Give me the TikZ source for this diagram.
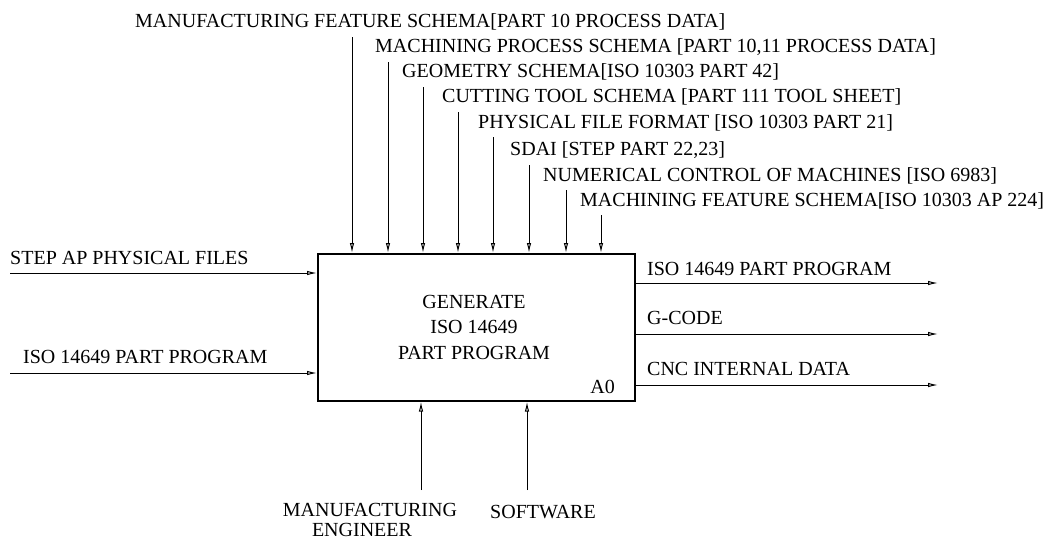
\documentclass[tikz,border=0pt]{standalone}
\usepackage{fontspec}
\setmainfont{Liberation Serif}
\usetikzlibrary{arrows.meta}
\begin{document}
\begin{tikzpicture}[x=1pt,y=-1pt,
  lbl/.style={font=\fontsize{20}{25}\selectfont, inner sep=0pt, anchor=west},
  mlbl/.style={font=\fontsize{20}{22}\selectfont, inner sep=0pt},
  arr/.style={line width=1pt, -{Latex[open,length=10pt,width=4.5pt]}},
  boxst/.style={draw, line width=1.6pt, minimum width=317pt, minimum height=147pt, anchor=north west, inner sep=0pt}]
\useasboundingbox (0,0) rectangle (1061,541);
% main box
\node[boxst] (box) at (317,253) {};
\node[font=\fontsize{20}{25.5}\selectfont, align=center, inner sep=0pt] (title) at (474,327) {GENERATE\\ISO 14649\\PART PROGRAM};
\node[lbl, anchor=east] (a0) at (615,387) {A0};
% top (control) labels
\node[lbl] (t1) at (135,22) {MANUFACTURING FEATURE SCHEMA[PART 10 PROCESS DATA]};
\node[lbl] (t2) at (375,47) {MACHINING PROCESS SCHEMA [PART 10,11 PROCESS DATA]};
\node[lbl] (t3) at (402,72) {GEOMETRY SCHEMA[ISO 10303 PART 42]};
\node[lbl] (t4) at (442,97) {CUTTING TOOL SCHEMA [PART 111 TOOL SHEET]};
\node[lbl] (t5) at (478,123) {PHYSICAL FILE FORMAT [ISO 10303 PART 21]};
\node[lbl] (t6) at (510,150) {SDAI [STEP PART 22,23]};
\node[lbl] (t7) at (543,176) {NUMERICAL CONTROL OF MACHINES [ISO 6983]};
\node[lbl] (t8) at (580,201) {MACHINING FEATURE SCHEMA[ISO 10303 AP 224]};
% top arrow start points
\coordinate (c1) at (352,37);
\coordinate (c2) at (388,62);
\coordinate (c3) at (423,87);
\coordinate (c4) at (458,112);
\coordinate (c5) at (493,137);
\coordinate (c6) at (529,165);
\coordinate (c7) at (566,190);
\coordinate (c8) at (601,215);
\foreach \c in {c1,c2,c3,c4,c5,c6,c7,c8}{
  \draw[arr] (\c) -- (\c |- box.north);
}
% inputs
\node[lbl] (i1) at (10,258) {STEP AP PHYSICAL FILES};
\node[lbl] (i2) at (23,357) {ISO 14649 PART PROGRAM};
\coordinate (in1) at (10,273);
\coordinate (in2) at (10,373);
\draw[arr] (in1) -- (in1 -| box.west);
\draw[arr] (in2) -- (in2 -| box.west);
% outputs
\coordinate (o1) at (938,283);
\coordinate (o2) at (938,334);
\coordinate (o3) at (938,385);
\draw[arr] (o1 -| box.east) -- (o1);
\draw[arr] (o2 -| box.east) -- (o2);
\draw[arr] (o3 -| box.east) -- (o3);
\node[lbl] (ol1) at (647,269) {ISO 14649 PART PROGRAM};
\node[lbl] (ol2) at (647,318) {G-CODE};
\node[lbl] (ol3) at (647,369) {CNC INTERNAL DATA};
% mechanisms
\coordinate (m1) at (421,490);
\coordinate (m2) at (527,490);
\draw[arr] (m1) -- (m1 |- box.south);
\draw[arr] (m2) -- (m2 |- box.south);
\node[mlbl] (ml1) at (370,510) {MANUFACTURING};
\node[mlbl] (ml2) at (362,530) {ENGINEER};
\node[mlbl] (ml3) at (543,512) {SOFTWARE};
\end{tikzpicture}
\end{document}
